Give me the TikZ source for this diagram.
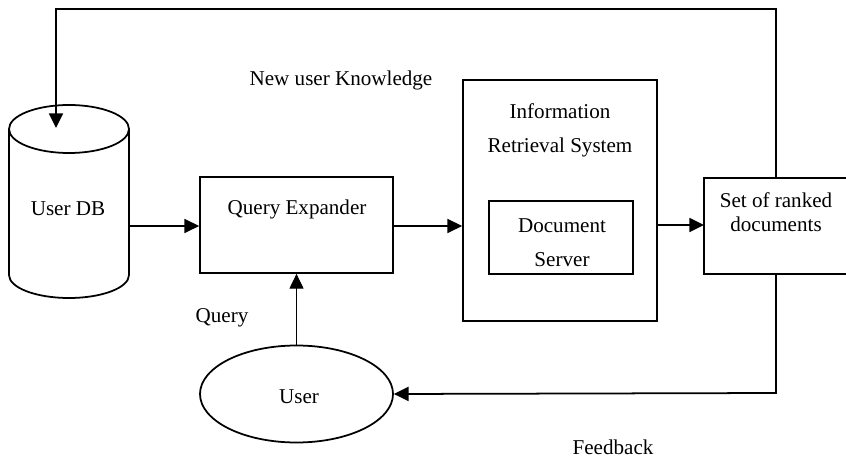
\documentclass[tikz,border=0pt]{standalone}
\usepackage{fontspec}
\setmainfont{Liberation Serif}
\usetikzlibrary{arrows.meta,shapes.geometric}
\begin{document}
\begin{tikzpicture}[x=0.03cm,y=-0.03cm,
  outline/.style={draw=black,line width=1.5pt},
  boxnode/.style={outline,rectangle,inner sep=0pt},
  txt/.style={font=\fontsize{18}{22}\selectfont,inner sep=0pt,align=center},
  flow/.style={line width=1.5pt,-{Triangle[length=0.44cm,width=0.42cm]}},
  thinflow/.style={line width=0.8pt,-{Triangle[length=0.44cm,width=0.42cm]}}]
\useasboundingbox (0,0) rectangle (846,458);

% user database drawn as a cylinder
\coordinate (dbtop) at (56,128);
\coordinate (dbout) at (129,226);
\draw[outline] (69,129) ellipse [x radius=60, y radius=24];
\draw[outline] (9,129) -- (9,275) arc[start angle=180, end angle=0, x radius=60, y radius=23] -- (129,129);
\node[txt] (dbtext) at (68,209) {User DB};

% query expander
\node[boxnode,minimum width=5.79cm,minimum height=2.88cm] (qe) at (296.5,225) {};
\node[txt] (qetext) at (297,209) {Query Expander};

% information retrieval system with its document server
\node[boxnode,minimum width=5.82cm,minimum height=7.23cm] (irs) at (560,200.5) {};
\node[txt,font=\fontsize{18}{29}\selectfont] (irstext) at (560,130) {Information\\Retrieval System};
\node[boxnode,minimum width=4.32cm,minimum height=2.19cm] (ds) at (561,237.5) {};
\node[txt,font=\fontsize{18}{29}\selectfont] (dstext) at (562,243) {Document\\Server};

% ranked result list, open towards the right margin
\coordinate (srdtop) at (776,178);
\coordinate (srdbot) at (776,274);
\coordinate (srdin) at (704,225);
\draw[outline] (850,178) -- (704,178) -- (704,274) -- (850,274);
\node[txt,font=\fontsize{18}{21}\selectfont] (srdtext) at (776,212) {Set of ranked\\documents};

% user
\node[outline,ellipse,minimum width=5.79cm,minimum height=2.91cm,inner sep=0pt] (user) at (296.5,394) {};
\node[txt] (usertext) at (299,397) {User};

% connectors
\draw[flow] (dbout) -- (qe.west |- dbout);
\draw[flow] (qe.east |- dbout) -- (irs.west |- dbout);
\draw[flow] (irs.east |- srdin) -- (srdin);
\draw[thinflow] (user.north) -- (qe.south);
\draw[flow] (srdtop) -- (776,9) -- (56,9) -- (dbtop);
\draw[flow] (srdbot) -- (776,393) -- (user.east);

% labels
\node[txt] (newknow) at (341,80) {New user Knowledge};
\node[txt] (querylbl) at (222,318) {Query};
\node[txt] (feedback) at (613,447) {Feedback};
\end{tikzpicture}
\end{document}
